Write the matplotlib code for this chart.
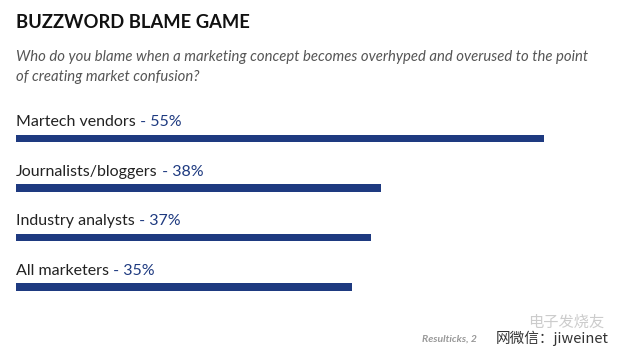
import matplotlib
matplotlib.use("Agg")
import matplotlib.pyplot as plt

# survey answers, top to bottom
answers = ['Martech vendors', 'Journalists/bloggers', 'Industry analysts', 'All marketers']
shares = [55, 38, 37, 35]

title = 'BUZZWORD BLAME GAME'
question = ('Who do you blame when a marketing concept becomes overhyped and overused to the point\n'
            'of creating market confusion?')
source = 'Resulticks, 2'

navy = '#1e3a80'
W, H = 630, 357

plt.rcParams['font.family'] = ['Lato', 'DejaVu Sans']
fig = plt.figure(figsize=(W / 100, H / 100), dpi=100)
fig.patch.set_facecolor('white')

# axes placed so that 0% sits at x=16px and each row is ~49.5px tall
ax = fig.add_axes([16 / W, (H - 311.75) / H, (W - 16) / W, 198 / H])
ax.barh(range(len(shares)), shares, height=0.16, color=navy)
ax.set_xlim(0, (W - 16) / 9.6)
ax.set_ylim(len(shares) - 0.5, -0.5)
ax.axis('off')

for i, (name, val) in enumerate(zip(answers, shares)):
    t = ax.text(0, i - 0.33, name, fontsize=11.5, color='#222222', va='center', ha='left')
    ax.annotate(' - {}%'.format(val), xy=(1, 0), xycoords=t, va='bottom', ha='left',
                fontsize=11.5, color=navy)

fig.text(16 / W, 1 - 22 / H, title, fontsize=13.2, fontweight='bold', color='#111111',
         va='center', ha='left')
fig.text(16 / W, 1 - 67 / H, question, fontsize=10.75, style='italic', color='#555555',
         va='center', ha='left', linespacing=1.6)

fig.text(422 / W, 1 - 339 / H, source, fontsize=7.5, style='italic', fontweight='bold',
         color='#999999', va='center', ha='left')
fig.text(496 / W, 1 - 338 / H, '网微信：jiweinet', fontsize=10.5,
         family=['Noto Sans CJK SC', 'DejaVu Sans'], color='#333333', va='center', ha='left')
fig.text(528 / W, 1 - 322 / H, '电子发烧友', fontsize=11, style='italic',
         family=['Noto Sans CJK SC', 'DejaVu Sans'], color='#cccccc', va='center', ha='left')

fig.savefig('out.png', dpi=100)
